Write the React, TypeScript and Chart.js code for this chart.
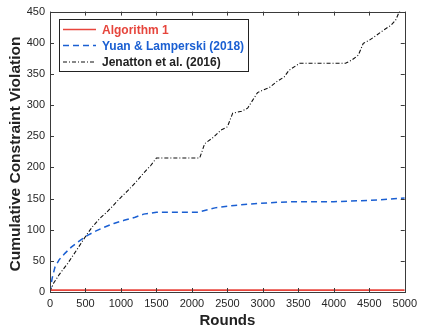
import { useEffect, useRef } from 'react';
import { Chart, registerables } from 'chart.js';

Chart.register(...registerables);

const seriesNames = ['Algorithm 1', 'Yuan & Lamperski (2018)', 'Jenatton et al. (2016)'];
const xTitle = 'Rounds';
const yTitle = 'Cumulative Constraint Violation';

const algoRounds = [0, 5000];
const algoValues = [3, 3];

const yuanRounds = [0, 30, 70, 130, 210, 300, 390, 530, 650, 765, 900, 1045, 1200, 1320, 1500, 1800, 2090, 2325, 2600, 2925, 3200, 3480, 4000, 4500, 4800, 5000];
const yuanValues = [0, 22, 40, 52, 62, 72, 80, 91, 98, 104, 110, 115, 120, 125, 128, 128, 128, 135, 139, 142, 144, 145, 145, 147, 149, 151];

const jenRounds = [0, 50, 130, 250, 380, 511, 600, 700, 800, 900, 1000, 1100, 1200, 1320, 1420, 1500, 2110, 2180, 2300, 2410, 2500, 2575, 2700, 2785, 2925, 3000, 3090, 3200, 3300, 3370, 3520, 4165, 4250, 4345, 4415, 4500, 4600, 4710, 4805, 4870, 4920, 4970, 5000];
const jenValues = [0, 14, 28, 46, 68, 91, 105, 118, 128, 140, 152, 163, 175, 191, 203, 215, 215, 238, 248, 260, 265, 287, 290, 295, 320, 324, 328, 338, 345, 356, 367, 367, 372, 380, 399, 404, 412, 421, 428, 436, 449, 455, 460];

const xMin = 0, xMax = 5000, xStep = 500;
const yMin = 0, yMax = 450, yStep = 50;

const lineColors = ['#e8453c', '#1a5fd2', '#111111'];
const textColors = ['#e6453c', '#1a5fd2', '#222222'];
const dashes: number[][] = [[], [6, 4], [4, 2, 1, 2]];

const FONT = '"Liberation Sans", Arial, sans-serif';

const pts = (xs: number[], ys: number[]) => xs.map((x, i) => ({ x, y: ys[i] }));

const framePlugin = {
  id: 'frame',
  afterDraw(chart: any) {
    const { ctx, chartArea: a, scales } = chart;
    const xs = scales.x, ys = scales.y;
    ctx.save();
    ctx.strokeStyle = '#3a3a3a';
    ctx.lineWidth = 1;
    ctx.strokeRect(Math.round(a.left) + 0.5, Math.round(a.top) + 0.5, Math.round(a.right - a.left), Math.round(a.bottom - a.top));
    const tl = 4;
    ctx.beginPath();
    for (let v = xMin; v <= xMax; v += xStep) {
      const px = Math.round(xs.getPixelForValue(v)) + 0.5;
      ctx.moveTo(px, a.bottom); ctx.lineTo(px, a.bottom - tl);
      ctx.moveTo(px, a.top); ctx.lineTo(px, a.top + tl);
    }
    for (let v = yMin; v <= yMax; v += yStep) {
      const py = Math.round(ys.getPixelForValue(v)) + 0.5;
      ctx.moveTo(a.left, py); ctx.lineTo(a.left + tl, py);
      ctx.moveTo(a.right, py); ctx.lineTo(a.right - tl, py);
    }
    ctx.stroke();

    // axis titles
    ctx.fillStyle = '#222222';
    ctx.textAlign = 'center';
    ctx.textBaseline = 'middle';
    ctx.font = `bold 15px ${FONT}`;
    ctx.fillText(xTitle, (a.left + a.right) / 2, 321);
    ctx.save();
    ctx.translate(16, 154);
    ctx.rotate(-Math.PI / 2);
    ctx.font = `bold 15.5px ${FONT}`;
    ctx.fillText(yTitle, 0, 0);
    ctx.restore();

    // legend
    const lx = 59.5, ly = 19.5, lw = 189, lh = 52;
    ctx.fillStyle = '#ffffff';
    ctx.fillRect(lx, ly, lw, lh);
    ctx.strokeStyle = '#222222';
    ctx.strokeRect(lx, ly, lw, lh);
    const rows = [29.5, 45.5, 62];
    ctx.font = `bold 12px ${FONT}`;
    ctx.textBaseline = 'middle';
    ctx.textAlign = 'left';
    seriesNames.forEach((name, i) => {
      ctx.strokeStyle = lineColors[i];
      ctx.lineWidth = i === 0 ? 1.6 : i === 1 ? 1.5 : 1.1;
      ctx.setLineDash(dashes[i]);
      ctx.beginPath();
      ctx.moveTo(63, rows[i]);
      ctx.lineTo(96, rows[i]);
      ctx.stroke();
      ctx.setLineDash([]);
      ctx.fillStyle = textColors[i];
      ctx.fillText(name, 102, rows[i] + 1);
    });
    ctx.restore();
  },
};

export default function App() {
  const ref = useRef<HTMLCanvasElement>(null);
  useEffect(() => {
    document.body.style.margin = '0';
    const chart = new Chart(ref.current!, {
      type: 'line',
      data: {
        datasets: [
          { label: seriesNames[0], data: pts(algoRounds, algoValues), borderColor: lineColors[0], borderWidth: 1.6, pointRadius: 0, borderDash: dashes[0] },
          { label: seriesNames[1], data: pts(yuanRounds, yuanValues), borderColor: lineColors[1], borderWidth: 1.5, pointRadius: 0, borderDash: dashes[1] },
          { label: seriesNames[2], data: pts(jenRounds, jenValues), borderColor: lineColors[2], borderWidth: 1.1, pointRadius: 0, borderDash: dashes[2] },
        ],
      },
      options: {
        animation: false,
        responsive: false,
        layout: { padding: { left: 0, right: 13, top: 11, bottom: 0 } },
        plugins: { legend: { display: false }, tooltip: { enabled: false } },
        scales: {
          x: {
            type: 'linear', min: xMin, max: xMax,
            grid: { display: false, drawTicks: false }, border: { display: false },
            ticks: { stepSize: xStep, color: '#262626', font: { family: FONT, size: 11 }, padding: 5, maxRotation: 0, autoSkip: false, callback: (v: any) => String(v) },
            afterFit: (s: any) => { s.height = 37; },
          },
          y: {
            type: 'linear', min: yMin, max: yMax,
            grid: { display: false, drawTicks: false }, border: { display: false },
            ticks: { stepSize: yStep, color: '#262626', font: { family: FONT, size: 11 }, padding: 5, callback: (v: any) => String(v) },
            afterFit: (s: any) => { s.width = 50; },
          },
        },
      },
      plugins: [framePlugin],
    } as any);
    return () => chart.destroy();
  }, []);
  return (
    <div style={{ position: 'fixed', left: 0, top: 0, width: 422, height: 329 }}>
      <canvas ref={ref} width={422} height={329} style={{ width: 422, height: 329 }} />
    </div>
  );
}
